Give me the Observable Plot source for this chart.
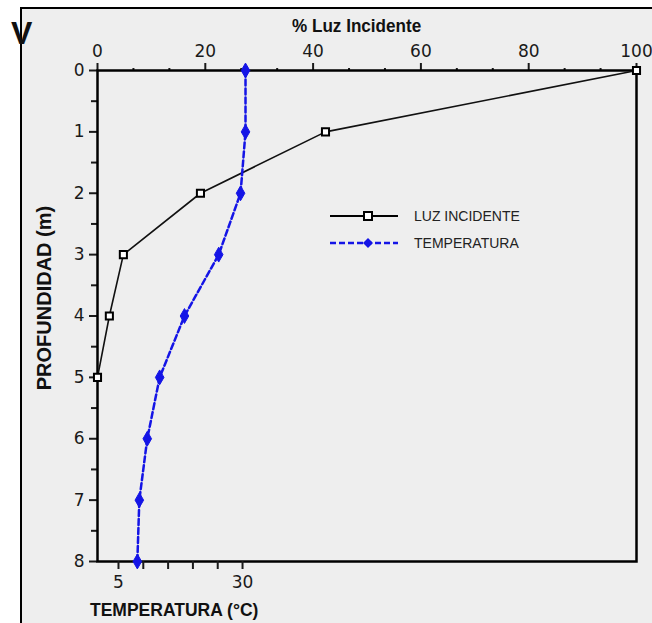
<!DOCTYPE html>
<html>
<head>
<meta charset="utf-8">
<script src="https://cdn.jsdelivr.net/npm/d3@7"></script>
<script src="https://cdn.jsdelivr.net/npm/@observablehq/plot@0.6"></script>
<style>
  body { margin: 0; background: #fff; }
  #wrap { position: relative; width: 652px; height: 623px; overflow: hidden; font-family: "Liberation Sans", Arial, sans-serif; }
  #panel { position: absolute; left: 20px; top: 7px; width: 700px; height: 700px; border: 2.5px solid #000; background: #eeeeee; }
  #wrap svg.chart { position: absolute; left: 0; top: 0; background: transparent; overflow: visible; }
  .lbl { position: absolute; color: #111; font-weight: bold; white-space: nowrap; }
  #v { left: 11px; top: 17px; font-size: 32px; font-weight: bold; line-height: 1; }
  #tTop { left: 292px; top: 16px; font-size: 19px; line-height: 1; transform: scaleX(0.9); transform-origin: left center; }
  #tLeft { left: 44px; top: 298px; font-size: 20px; line-height: 1; transform: translate(-50%, -50%) rotate(-90deg); }
  #tBottom { left: 90px; top: 602px; font-size: 17.5px; line-height: 1; }
  #legend { position: absolute; left: 325px; top: 202px; }
  #legend .row { display: flex; align-items: center; height: 27px; }
  #legend span { font-size: 14px; color: #222; margin-left: 13px; }
</style>
</head>
<body>
<div id="wrap">
  <div id="panel"></div>
  <div class="lbl" id="v">V</div>
  <div class="lbl" id="tTop">% Luz Incidente</div>
  <div class="lbl" id="tLeft">PROFUNDIDAD (m)</div>
  <div class="lbl" id="tBottom">TEMPERATURA (°C)</div>
  <div id="legend">
    <div class="row">
      <svg width="76" height="12"><line x1="5" x2="73" y1="6" y2="6" stroke="#000" stroke-width="2"/><rect x="39" y="2" width="8" height="8" fill="#fff" stroke="#000" stroke-width="2"/></svg>
      <span>LUZ INCIDENTE</span>
    </div>
    <div class="row">
      <svg width="76" height="12"><line x1="5" x2="73" y1="6" y2="6" stroke="#1414e6" stroke-width="2.5" stroke-dasharray="6,3"/><path d="M43,1 L48,6 L43,11 L38,6 Z" fill="#1414e6"/></svg>
      <span>TEMPERATURA</span>
    </div>
  </div>
</div>
<script>
// ---- data ----
const depthLuz = [0, 1, 2, 3, 4, 5];
const luz = [100, 42.3, 19.1, 4.8, 2.2, 0];
const depthTemp = [0, 1, 2, 3, 4, 5, 6, 7, 8];
const temperatura = [30.6, 30.6, 29.6, 25.2, 18.3, 13.3, 10.8, 9.2, 8.8];
const luzTicks = [0, 20, 40, 60, 80, 100];
const depthTicks = [0, 1, 2, 3, 4, 5, 6, 7, 8];
const tempTicks = [5, 10, 15, 20, 25, 30];
const tempTickLabels = [5, 30];

const luzData = depthLuz.map((d, i) => ({depth: d, luz: luz[i]}));
const tempData = depthTemp.map((d, i) => ({depth: d, temp: temperatura[i]}));
const luzMinor = d3.range(0, 100, 20 / 3).filter(v => Math.abs(v / 20 - Math.round(v / 20)) > 1e-6);
const depthMinor = d3.range(0.5, 8, 1);

const W = 652, H = 623;
const margins = {marginLeft: 97, marginRight: 16, marginTop: 70, marginBottom: 62};
const blue = "#1414e6";
const tickFont = "DejaVu Sans, Verdana, sans-serif";

const luzChart = Plot.plot({
  width: W, height: H, ...margins,
  style: {background: "transparent", fontFamily: tickFont, fontSize: "17px", color: "#1a1a1a", overflow: "visible"},
  x: {domain: [0, 100], axis: null},
  y: {domain: [8, 0], axis: null},
  marks: [
    Plot.axisX({anchor: "top", ticks: luzMinor, tickSize: 3, tickFormat: () => "", strokeWidth: 2, label: null}),
    Plot.axisX({anchor: "top", ticks: luzTicks, tickSize: 8, tickPadding: 6, strokeWidth: 2, label: null, fontSize: 17}),
    Plot.axisY({anchor: "left", ticks: depthMinor, tickSize: 6, tickFormat: () => "", strokeWidth: 2, label: null}),
    Plot.axisY({anchor: "left", ticks: depthTicks, tickSize: 8, tickPadding: 5, strokeWidth: 2, label: null, fontSize: 17}),
    Plot.frame({stroke: "#000", strokeWidth: 2.5}),
    Plot.line(luzData, {x: "luz", y: "depth", stroke: "#111", strokeWidth: 1.6}),
    Plot.dot(luzData, {x: "luz", y: "depth", symbol: "square", r: 4, fill: "#fff", stroke: "#000", strokeWidth: 2})
  ]
});
luzChart.setAttribute("class", luzChart.getAttribute("class") + " chart");

const tempChart = Plot.plot({
  width: W, height: H, ...margins,
  style: {background: "transparent", fontFamily: tickFont, fontSize: "17px", color: "#1a1a1a", overflow: "visible"},
  x: {domain: [0.77, 109.4], axis: null},
  y: {domain: [8, 0], axis: null},
  marks: [
    Plot.axisX({anchor: "bottom", ticks: tempTicks, tickSize: 8, tickPadding: 6, strokeWidth: 2, label: null, fontSize: 17,
      tickFormat: d => tempTickLabels.includes(d) ? String(d) : ""}),
    Plot.line(tempData, {x: "temp", y: "depth", stroke: blue, strokeWidth: 2.5, strokeDasharray: "6,3"}),
    Plot.dot(tempData, {x: "temp", y: "depth", symbol: "diamond", r: 4.5, fill: blue, stroke: blue, strokeWidth: 1})
  ]
});
tempChart.setAttribute("class", tempChart.getAttribute("class") + " chart");

const wrap = document.getElementById("wrap");
wrap.appendChild(luzChart);
wrap.appendChild(tempChart);
</script>
</body>
</html>
